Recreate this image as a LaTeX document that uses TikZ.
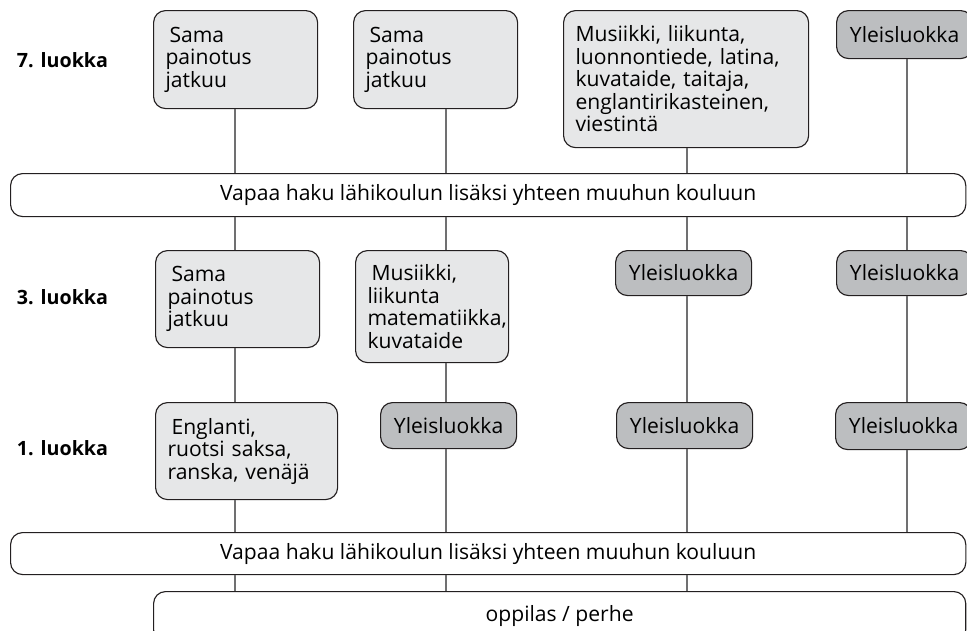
\documentclass[tikz,border=0pt]{standalone}
\usepackage{fontspec}
\setmainfont{Open Sans}
\usetikzlibrary{positioning,calc}
\hyphenpenalty=10000
\definecolor{palefill}{HTML}{E6E7E8}
\definecolor{darkfill}{HTML}{BCBEC0}
\definecolor{edgecol}{HTML}{231F20}
\definecolor{linkcol}{HTML}{707071}
\tikzset{
    box/.style={draw=edgecol, line width=0.8pt, rounded corners=0.3cm, anchor=north west, inner xsep=0.3cm, inner ysep=0pt},
    pale/.style={box, fill=palefill, align=left},
    dark/.style={box, fill=darkfill, align=center, minimum width=3.4cm},
    band/.style={box, fill=white, align=center},
    link/.style={draw=linkcol, line width=1.7pt},
    grade/.style={font=\fontsize{14}{16}\selectfont\bfseries, anchor=west}
}

\begin{document}
\begin{tikzpicture}[x=0.025cm, y=-0.025cm, font=\fontsize{15}{16}\selectfont]
    \useasboundingbox (0,0) rectangle (967,631);
    \clip (0,0) rectangle (967,631);

    % columns of the connectors
    \coordinate (c1) at (235,0);
    \coordinate (c2) at (446,0);
    \coordinate (c3) at (687,0);
    \coordinate (c4) at (907,0);

    % 7. luokka
    \node[grade] (g7) at (12,60) {7. luokka};
    \node[pale, text width=3.5cm, minimum height=2.45cm] (t1) at (153,10) {\hspace{0.1cm}Sama\\painotus\\jatkuu};
    \node[pale, text width=3.5cm, minimum height=2.45cm] (t2) at (353,10) {\hspace{0.1cm}Sama\\painotus\\jatkuu};
    \node[pale, text width=5.525cm, minimum height=3.425cm] (t3) at (563,10) {Musiikki, liikunta,\\luonnontiede, latina,\\kuvataide, taitaja,\\englantirikasteinen,\\viestintä};
    \node[dark, minimum height=1.2cm] (t4) at (836,10) {Yleisluokka};

    \node[band, minimum width=23.875cm, minimum height=1.075cm] (w1) at (10,173) {Vapaa haku lähikoulun lisäksi yhteen muuhun kouluun};

    % 3. luokka
    \node[grade] (g3) at (12,297) {3. luokka};
    \node[pale, text width=3.5cm, minimum height=2.425cm] (m1) at (155,250) {\hspace{0.1cm}Sama\\painotus\\jatkuu};
    \node[pale, text width=3.225cm, minimum height=2.8cm] (m2) at (355,250) {\hspace{0.1cm}Musiikki,\\liikunta\\matematiikka,\\kuvataide};
    \node[dark, minimum height=1.125cm] (m3) at (615,250) {Yleisluokka};
    \node[dark, minimum height=1.125cm] (m4) at (836,250) {Yleisluokka};

    % 1. luokka
    \node[grade] (g1) at (12,448) {1. luokka};
    \node[pale, text width=3.95cm, minimum height=2.425cm] (f1) at (155,402) {\hspace{0.1cm}Englanti,\\ruotsi saksa,\\ranska, venäjä};
    \node[dark, minimum height=1.15cm] (f2) at (380,402) {Yleisluokka};
    \node[dark, minimum height=1.15cm] (f3) at (616,402) {Yleisluokka};
    \node[dark, minimum height=1.175cm] (f4) at (835,402) {Yleisluokka};

    \node[band, minimum width=23.875cm, minimum height=1.05cm] (w2) at (10,532) {Vapaa haku lähikoulun lisäksi yhteen muuhun kouluun};
    \node[band, minimum width=20.3cm, text height=0.75cm, text depth=0.5cm] (pp) at (153,591) {oppilas / perhe};

    % connectors
    \draw[link] (t1.south -| c1) -- (w1.north -| c1);
    \draw[link] (t2.south -| c2) -- (w1.north -| c2);
    \draw[link] (t3.south -| c3) -- (w1.north -| c3);
    \draw[link] (t4.south -| c4) -- (w1.north -| c4);

    \draw[link] (w1.south -| c1) -- (m1.north -| c1);
    \draw[link] (w1.south -| c2) -- (m2.north -| c2);
    \draw[link] (w1.south -| c3) -- (m3.north -| c3);
    \draw[link] (w1.south -| c4) -- (m4.north -| c4);

    \draw[link] (m1.south -| c1) -- (f1.north -| c1);
    \draw[link] (m2.south -| c2) -- (f2.north -| c2);
    \draw[link] (m3.south -| c3) -- (f3.north -| c3);
    \draw[link] (m4.south -| c4) -- (f4.north -| c4);

    \draw[link] (f1.south -| c1) -- (w2.north -| c1);
    \draw[link] (f2.south -| c2) -- (w2.north -| c2);
    \draw[link] (f3.south -| c3) -- (w2.north -| c3);
    \draw[link] (f4.south -| c4) -- (w2.north -| c4);

    \draw[link] (w2.south -| c1) -- (pp.north -| c1);
    \draw[link] (w2.south -| c2) -- (pp.north -| c2);
    \draw[link] (w2.south -| c3) -- (pp.north -| c3);
\end{tikzpicture}
\end{document}
